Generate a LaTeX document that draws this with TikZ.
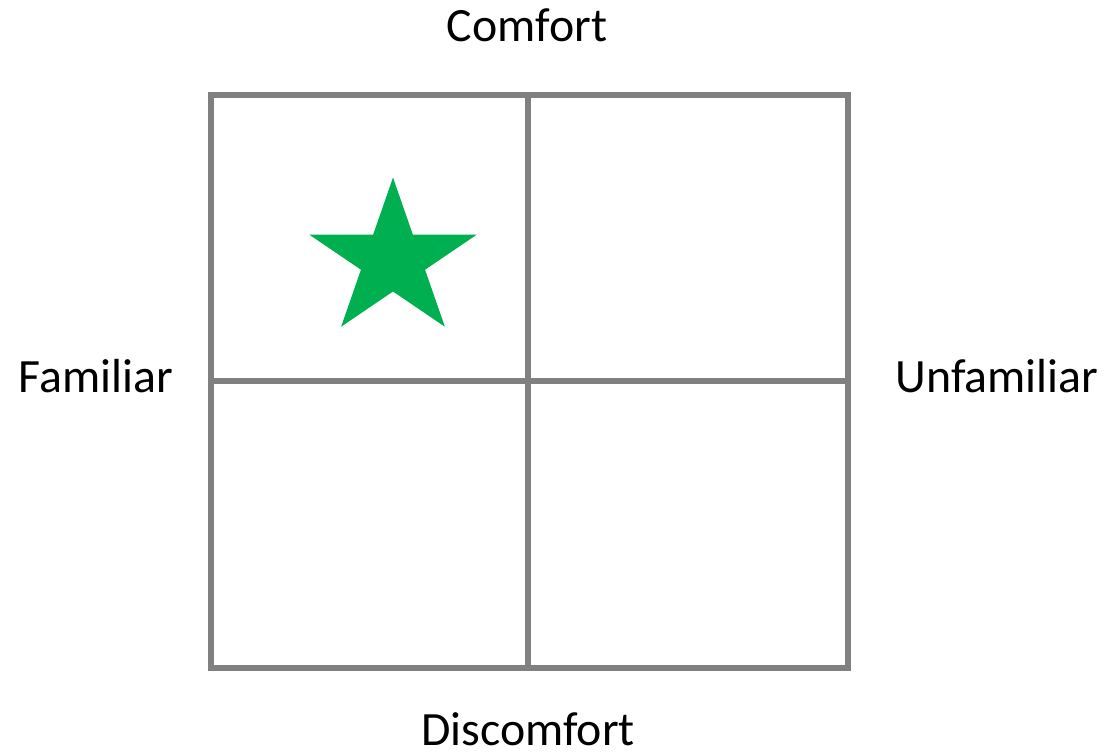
\documentclass[tikz,border=0pt]{standalone}
\usepackage{fontspec}
\setmainfont{Carlito}
\usepackage{xcolor}
\usetikzlibrary{positioning,calc}
\definecolor{gridgray}{HTML}{808080}
\definecolor{stargreen}{HTML}{00B050}

\begin{document}
\begin{tikzpicture}[x=0.025cm, y=-0.025cm,
  cell/.style={draw=gridgray, line width=3.9pt},
  axis/.style={font=\fontsize{34}{40}\selectfont, inner sep=0pt, anchor=base}]
  \useasboundingbox (0,0) rectangle (1105,755);
  % the four quadrants
  \draw[cell] (211,95) rectangle (848,668);
  \draw[cell] (528,95) -- (528,668);
  \draw[cell] (211,381) -- (848,381);
  % star in the top-left quadrant
  \coordinate (starc) at (393,260);
  \fill[stargreen, shift={(starc)}, xscale=1.07] (270:82.5)
    \foreach \k in {1,...,9}{ -- ({270+36*\k}:{ifthenelse(mod(\k,2)==1,31.5,82.5)}) } -- cycle;
  % labels
  \node[axis](comfort) at (527,42){Comfort};
  \node[axis](discomfort) at (528,745){Discomfort};
  \node[axis](familiar) at (96,392){Familiar};
  \node[axis](unfamiliar) at (997,392){Unfamiliar};
\end{tikzpicture}
\end{document}
